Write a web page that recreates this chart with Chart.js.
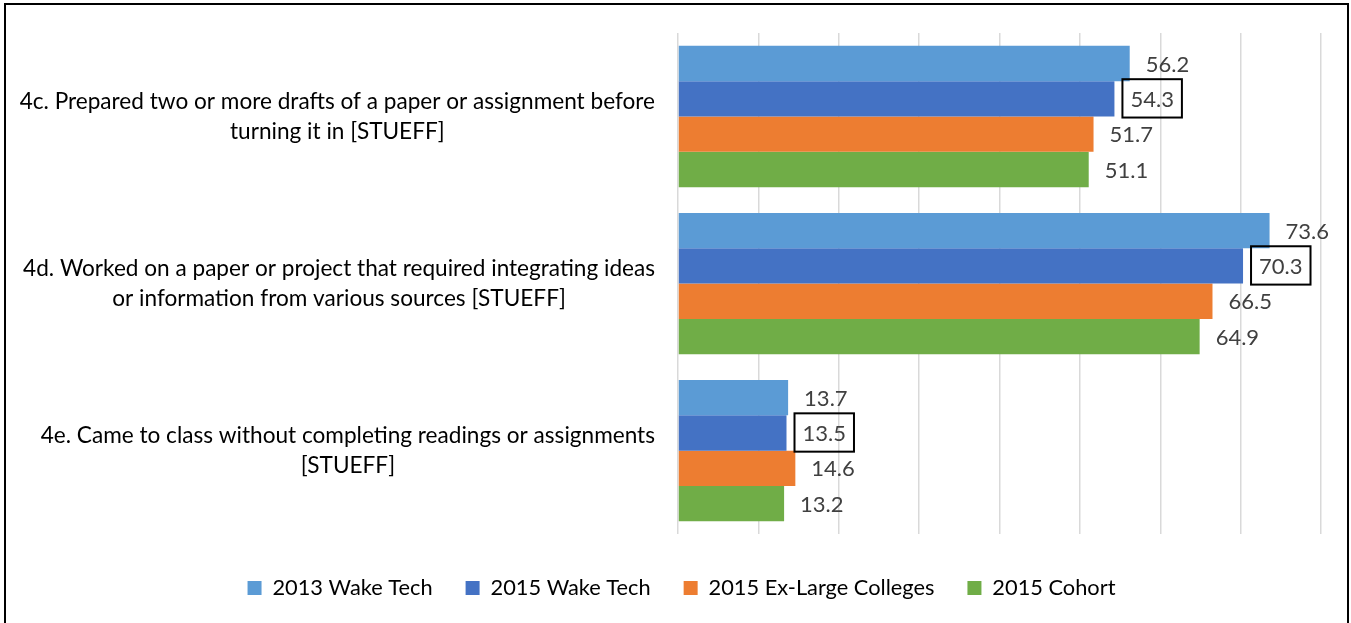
<!DOCTYPE html>
<html>
<head>
<meta charset="utf-8">
<script src="https://cdn.jsdelivr.net/npm/chart.js@4.4.0/dist/chart.umd.min.js"></script>
<style>
  html, body { margin: 0; padding: 0; background: #fff; }
  #wrap { position: relative; width: 1351px; height: 623px; }
</style>
</head>
<body>
<div id="wrap"><canvas id="myChart" width="1351" height="623"></canvas></div>
<script>
// categories, each label split into the lines shown on the chart
const categories = [
    ['4c. Prepared two or more drafts of a paper or assignment before', 'turning it in [STUEFF]'],
    ['4d. Worked on a paper or project that required integrating ideas', 'or information from various sources [STUEFF]'],
    ['4e. Came to class without completing readings or assignments', '[STUEFF]']
];
const seriesNames = ['2013 Wake Tech', '2015 Wake Tech', '2015 Ex-Large Colleges', '2015 Cohort'];
const wakeTech2013 = [56.2, 73.6, 13.7];
const wakeTech2015 = [54.3, 70.3, 13.5];
const exLarge2015 = [51.7, 66.5, 14.6];
const cohort2015 = [51.1, 64.9, 13.2];
const xTicks = [0, 10, 20, 30, 40, 50, 60, 70, 80];

const colors = ['#5B9BD5', '#4472C4', '#ED7D31', '#70AD47'];
const boxedSeries = 1; // 2015 Wake Tech labels are boxed
const fontFamily = 'Lato, "Noto Sans", sans-serif';

const framePlugin = {
    id: 'frame',
    beforeDraw(chart) {
        const ctx = chart.ctx;
        ctx.save();
        ctx.fillStyle = '#fff';
        ctx.fillRect(0, 0, chart.width, chart.height);
        ctx.strokeStyle = '#000';
        ctx.lineWidth = 2;
        ctx.strokeRect(5, 4, 1343, 700);
        ctx.restore();
    }
};

const labelsPlugin = {
    id: 'labels',
    afterDatasetsDraw(chart) {
        const ctx = chart.ctx;
        const yScale = chart.scales.y;
        ctx.save();

        // category labels, right aligned block with lines centred on each other
        ctx.font = '22.6px ' + fontFamily;
        ctx.fillStyle = '#000';
        ctx.textAlign = 'center';
        ctx.textBaseline = 'middle';
        categories.forEach((lines, i) => {
            const y = yScale.getPixelForValue(i);
            const widest = Math.max(...lines.map(l => ctx.measureText(l).width));
            const cx = chart.chartArea.left - 23 - widest / 2;
            lines.forEach((line, k) => {
                ctx.fillText(line, cx, y + (k - (lines.length - 1) / 2) * 30);
            });
        });

        // value labels
        ctx.font = '22px ' + fontFamily;
        ctx.fillStyle = '#404040';
        ctx.textAlign = 'left';
        chart.data.datasets.forEach((ds, di) => {
            const meta = chart.getDatasetMeta(di);
            meta.data.forEach((bar, i) => {
                const text = ds.data[i].toFixed(1);
                const x = bar.x + 16;
                ctx.fillText(text, x, bar.y + 1);
                if (di === boxedSeries) {
                    const w = ctx.measureText(text).width;
                    ctx.strokeStyle = '#000';
                    ctx.lineWidth = 2;
                    ctx.strokeRect(x - 8, bar.y - bar.height / 2 - 2, w + 16, bar.height + 3);
                }
            });
        });
        ctx.restore();
    }
};

const ctx = document.getElementById('myChart').getContext('2d');
const chart = new Chart(ctx, {
    type: 'bar',
    data: {
        labels: categories,
        datasets: [wakeTech2013, wakeTech2015, exLarge2015, cohort2015].map((values, i) => ({
            label: seriesNames[i],
            data: values,
            backgroundColor: colors[i],
            borderWidth: 0,
            categoryPercentage: 0.846,
            barPercentage: 1
        }))
    },
    options: {
        indexAxis: 'y',
        responsive: false,
        animation: false,
        layout: { padding: { top: 33, right: 0, bottom: 14, left: 12 } },
        scales: {
            x: {
                min: xTicks[0],
                max: xTicks[xTicks.length - 1],
                afterBuildTicks: scale => { scale.ticks = xTicks.map(v => ({ value: v })); },
                afterFit: scale => { scale.height = 10; },
                ticks: { display: false },
                grid: { color: '#d9d9d9', lineWidth: 1.5, drawTicks: false },
                border: { display: false }
            },
            y: {
                ticks: { display: false },
                grid: { display: false },
                border: { display: false },
                afterFit: scale => { scale.width = 666; }
            },
            yRight: {
                type: 'category',
                position: 'right',
                ticks: { display: false },
                grid: { display: false },
                border: { display: false },
                afterFit: scale => { scale.width = 30; }
            }
        },
        plugins: {
            legend: {
                position: 'bottom',
                labels: {
                    boxWidth: 14,
                    boxHeight: 14,
                    padding: 33,
                    color: '#000',
                    font: { family: fontFamily, size: 21.8 }
                }
            },
            tooltip: { enabled: false }
        }
    },
    plugins: [framePlugin, labelsPlugin]
});
</script>
</body>
</html>
